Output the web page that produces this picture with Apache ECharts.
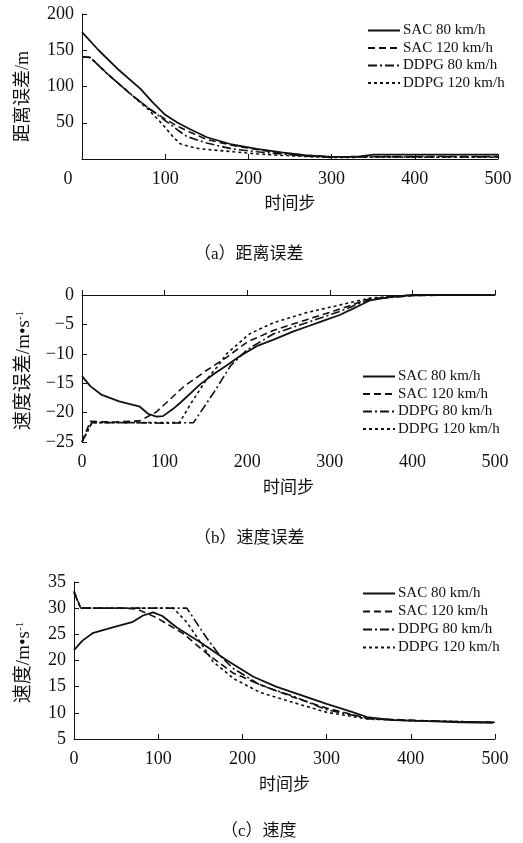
<!DOCTYPE html>
<html>
<head>
<meta charset="utf-8">
<script src="https://cdn.jsdelivr.net/npm/echarts@6/dist/echarts.min.js"></script>
<style>
  html, body { margin: 0; padding: 0; background: #fff; }
  #chart { width: 523px; height: 843px; }
</style>
</head>
<body>
<div id="chart"></div>
<script>
// legend names
const seriesNames = ['SAC 80 km/h', 'SAC 120 km/h', 'DDPG 80 km/h', 'DDPG 120 km/h']
const xTicks = [0, 100, 200, 300, 400, 500]

// (a) distance error, [time step, m]
const distSac80 = [[0, 175], [20, 150], [45, 122], [70, 97], [85, 78], [100, 61], [115, 50], [130, 41], [150, 30], [180, 20], [210, 14], [240, 9], [270, 5], [300, 3], [330, 3], [350, 6], [400, 6], [450, 6], [500, 6]]
const distSac120 = [[0, 141], [10, 140], [30, 118], [60, 88], [80, 70], [100, 55], [115, 45], [130, 37], [150, 27], [180, 19], [210, 13], [240, 8], [270, 5], [300, 3], [350, 3.5], [400, 3.5], [450, 3.5], [500, 3.5]]
const distDdpg80 = [[0, 141], [10, 140], [30, 118], [60, 88], [80, 70], [100, 53], [115, 40], [126, 31], [150, 22], [180, 14], [210, 10], [240, 7], [270, 4], [300, 2.5], [350, 3], [400, 3], [450, 3], [500, 3]]
const distDdpg120 = [[0, 141], [10, 140], [30, 118], [60, 88], [80, 68], [95, 50], [110, 30], [118, 21], [130, 17], [142, 14], [182, 10], [210, 7], [240, 5], [270, 3.5], [300, 2], [350, 2.5], [400, 2.5], [500, 2.5]]

// (b) speed error, [time step, m/s]
const errSac80 = [[0, -13.8], [10, -15.5], [24, -17], [45, -18.1], [70, -19], [80, -20.2], [90, -20.7], [98, -20.6], [110, -19.4], [120, -18.2], [143, -15.2], [160, -13.4], [175, -12.0], [191, -10.4], [213, -8.6], [232, -7.6], [256, -6.2], [272, -5.4], [296, -4.2], [312, -3.4], [330, -2.2], [349, -0.9], [370, -0.4], [400, 0], [450, 0.1], [500, 0.2]]
const errSac120 = [[0, -25], [10, -21.5], [40, -21.6], [70, -21.4], [90, -19.9], [123, -15.6], [151, -12.8], [175, -10.6], [200, -8.0], [232, -6.0], [272, -4.2], [312, -2.4], [349, -0.6], [400, -0.1], [450, 0], [500, 0.2]]
const errDdpg80 = [[0, -25], [12, -21.7], [60, -21.7], [100, -21.8], [135, -21.7], [160, -16.5], [180, -12.0], [200, -9.3], [232, -6.6], [272, -4.7], [312, -2.8], [349, -0.7], [400, -0.1], [500, 0.2]]
const errDdpg120 = [[0, -25], [12, -21.7], [60, -21.7], [118, -21.7], [133, -18.2], [150, -14.5], [165, -12], [175, -10.0], [203, -6.6], [232, -4.7], [272, -3.0], [312, -1.7], [349, -0.5], [400, 0], [500, 0.2]]

// (c) speed, [time step, m/s]
const spdSac80 = [[0, 22], [10, 23.8], [23, 25.3], [45, 26.3], [70, 27.4], [82, 28.6], [94, 29.2], [105, 28.5], [122, 26.3], [150, 23.5], [181, 20.1], [213, 16.9], [240, 15.0], [260, 13.9], [300, 11.7], [330, 10.2], [348, 9.2], [379, 8.6], [420, 8.4], [460, 8.2], [498, 8.1]]
const spdSac120 = [[0, 33.3], [8, 30], [30, 30], [60, 30], [75, 29.8], [98, 28.2], [130, 25.1], [158, 21.3], [189, 17.6], [221, 15.4], [260, 13], [300, 10.9], [350, 8.9], [400, 8.6], [450, 8.3], [500, 8.2]]
const spdDdpg80 = [[0, 33], [8, 30], [60, 30], [100, 30], [134, 30], [158, 24.2], [173, 21], [189, 18.5], [221, 15.3], [260, 13.2], [300, 10.6], [350, 8.9], [400, 8.5], [500, 8.2]]
const spdDdpg120 = [[0, 33], [8, 30], [60, 30], [118, 30], [134, 27.3], [150, 23.5], [165, 19.8], [190, 16.5], [221, 13.9], [260, 12], [300, 10.1], [350, 8.8], [400, 8.5], [500, 8.2]]

const panels = [
  [distSac80, distSac120, distDdpg80, distDdpg120],
  [errSac80, errSac120, errDdpg80, errDdpg120],
  [spdSac80, spdSac120, spdDdpg80, spdDdpg120]
]

const serif = "'Liberation Serif', 'Noto Sans CJK SC', serif"
const ink = '#111'
const dashes = ['solid', [7, 4], [9, 3, 2, 3], [3, 3]]

function xAxisFor (idx, nameGap, shiftZero) {
  return {
    gridIndex: idx,
    type: 'value',
    min: 0,
    max: 500,
    interval: 100,
    name: '时间步',
    nameLocation: 'middle',
    nameGap: nameGap,
    nameTextStyle: { fontFamily: serif, fontSize: 17, color: ink },
    axisLine: { lineStyle: { color: ink, width: 1 } },
    axisTick: { inside: true, length: 5, lineStyle: { color: ink } },
    splitLine: { show: false },
    axisLabel: {
      margin: 11,
      color: ink,
      fontFamily: serif,
      fontSize: 18,
      formatter: v => (shiftZero && v === 0) ? '{o|0}' : String(v),
      rich: { o: { fontFamily: serif, fontSize: 18, color: ink, padding: [0, 28, 4, 0] } }
    }
  }
}

function yAxisFor (idx, min, max, name, nameGap, nameSize, namePad, hideZero) {
  return {
    gridIndex: idx,
    type: 'value',
    min: min,
    max: max,
    interval: (max - min) / (idx === 0 ? 4 : (idx === 1 ? 5 : 6)),
    name: name,
    nameLocation: 'middle',
    nameGap: nameGap,
    nameRotate: 90,
    nameTextStyle: {
      fontFamily: serif,
      fontSize: nameSize,
      color: ink,
      padding: namePad,
      rich: { sup: { fontFamily: serif, fontSize: 11, color: ink, verticalAlign: 'top', padding: [0, 0, 8, 0] } }
    },
    axisLine: { show: true, lineStyle: { color: ink, width: 1 } },
    axisTick: { show: true, inside: true, length: 5, lineStyle: { color: ink } },
    splitLine: { show: false },
    axisLabel: {
      margin: 8,
      color: ink,
      fontFamily: serif,
      fontSize: 18,
      formatter: v => {
        if (hideZero && v === 0) return ''
        return v < 0 ? '\u2212' + Math.abs(v) : String(v)
      }
    }
  }
}

function legendFor (idx, left, top, gap) {
  return {
    id: 'lg' + idx,
    data: seriesNames.slice(),
    left: left,
    top: top,
    orient: 'vertical',
    itemWidth: 32,
    itemHeight: 14,
    itemGap: gap,
    selectedMode: false,
    itemStyle: { opacity: 0 },
    textStyle: { fontFamily: serif, fontSize: 15, color: ink, lineHeight: 15, padding: [0, 0, 0, -2] }
  }
}

const series = []
panels.forEach((group, p) => {
  group.forEach((data, k) => {
    series.push({
      name: seriesNames[k],
      type: 'line',
      xAxisIndex: p,
      yAxisIndex: p,
      data: data,
      symbol: 'none',
      smooth: false,
      lineStyle: { color: ink, width: k === 0 ? 1.8 : 1.6, type: dashes[k] },
      itemStyle: { color: ink },
      z: 4 - k
    })
  })
})

const captionStyle = { fontFamily: serif, fontSize: 17, fontWeight: 'normal', color: ink }

const chart = echarts.init(document.getElementById('chart'), null, { renderer: 'canvas' })
chart.setOption({
  backgroundColor: '#fff',
  animation: false,
  title: [
    { text: '（a）距离误差', left: 189, top: 241, textStyle: captionStyle },
    { text: '（b）速度误差', left: 189, top: 525, textStyle: captionStyle },
    { text: '（c）速度', left: 216, top: 818, textStyle: captionStyle }
  ],
  legend: [
    legendFor(0, 362, 18, 2.5),
    legendFor(1, 357, 364, 2.5),
    legendFor(2, 357, 581, 3)
  ],
  grid: [
    { left: 82, top: 14, width: 416, height: 145 },
    { left: 82, top: 295, width: 413, height: 147 },
    { left: 74, top: 582, width: 421, height: 157 }
  ],
  xAxis: [
    xAxisFor(0, 37, true),
    xAxisFor(1, 38, false),
    xAxisFor(2, 38, false)
  ],
  yAxis: [
    yAxisFor(0, 0, 200, '距离误差/m', 50, 18, [0, 20, 0, 0], true),
    yAxisFor(1, -25, 0, '速度误差/m•s{sup|-1}', 48, 19, [0, 4, 0, 0], false),
    yAxisFor(2, 5, 35, '速度/m•s{sup|-1}', 40, 19, [0, 4, 0, 0], false)
  ],
  series: series
})
</script>
</body>
</html>
